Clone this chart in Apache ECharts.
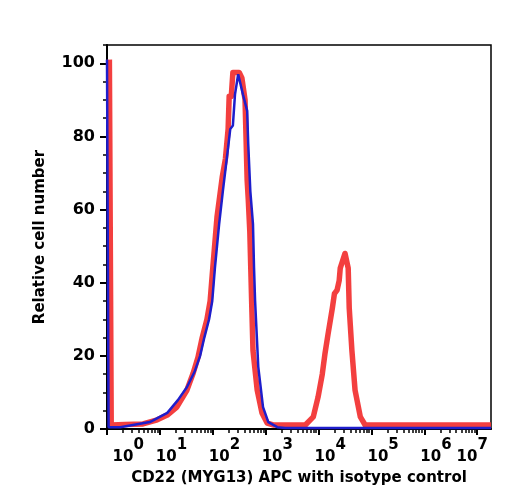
<!DOCTYPE html>
<html>
<head>
<meta charset="utf-8">
<script src="https://cdn.jsdelivr.net/npm/echarts@6/dist/echarts.min.js"></script>
<style>
  html, body { margin: 0; padding: 0; background: #fff; }
  #main { width: 511px; height: 503px; }
</style>
</head>
<body>
<div id="main"></div>
<script>
// x values are in decades (log10 of intensity), y is relative cell number
var decades = [0, 1, 2, 3, 4, 5, 6, 7];
// labels sit a little right of their ticks in the original, except the last one
var labelShift = [0.40, 0.22, 0.22, 0.22, 0.22, 0.22, 0.22, -0.095];
var yTicks = [0, 20, 40, 60, 80, 100];
var yMinorTicks = [5, 10, 15, 25, 30, 35, 45, 50, 55, 65, 70, 75, 85, 90, 95, 105];

// CD22 (MYG13) APC - red
var redX = [0.045, 0.08, 0.11, 0.34, 0.68, 0.95, 1.14, 1.32, 1.51, 1.63, 1.72, 1.80, 1.89, 1.95, 2.00, 2.08, 2.18, 2.24, 2.29, 2.31, 2.35, 2.38, 2.50, 2.55, 2.61, 2.65, 2.67, 2.70, 2.72, 2.74, 2.76, 2.84, 2.93, 3.03, 3.14, 3.75, 3.90, 3.99, 4.07, 4.12, 4.18, 4.26, 4.30, 4.35, 4.39, 4.41, 4.50, 4.56, 4.58, 4.63, 4.69, 4.79, 4.88, 7.26];
var redY = [101, 1.1, 1.0, 1.2, 1.4, 2.5, 3.8, 6.0, 10.6, 15.3, 19.6, 25, 30, 35, 44, 58, 69, 74, 82, 91, 91, 97.5, 97.5, 96, 90, 68, 63, 54, 43, 32, 21.5, 10.6, 4.4, 1.6, 1.1, 1.1, 3.3, 8.7, 15, 20.5, 26, 33, 37, 38, 40.6, 44, 48, 44, 33, 21.5, 10.6, 3.3, 1.1, 1.1];

// isotype control - blue
var blueX = [0, 0.03, 0.11, 0.25, 0.49, 0.81, 1.14, 1.34, 1.51, 1.66, 1.76, 1.84, 1.93, 1.99, 2.04, 2.12, 2.19, 2.29, 2.33, 2.38, 2.42, 2.48, 2.57, 2.65, 2.67, 2.71, 2.76, 2.78, 2.80, 2.86, 2.95, 3.05, 3.22, 3.37, 7.26];
var blueY = [101, 0.5, 0.5, 0.5, 1.1, 1.9, 4.4, 7.9, 11.4, 15.8, 20, 25, 30, 35, 44, 56, 65, 77, 82, 83, 91.5, 97, 91.5, 87, 78, 65, 56, 44, 35, 17, 6, 1.9, 0.5, 0.3, 0.3];

var xMax = 7.26;
var minorX = [];
decades.forEach(function (d) {
    for (var k = 2; k <= 9; k++) {
        var v = d + Math.log10(k);
        if (v < xMax) minorX.push(v);
    }
});
var labelPos = decades.map(function (d, i) { return d + labelShift[i]; });

function pairs(xs, ys) {
    return xs.map(function (x, i) { return [x, ys[i]]; });
}

var font = 'DejaVu Sans';
var chart = echarts.init(document.getElementById('main'));
var option = {
    animation: false,
    backgroundColor: '#fff',
    grid: {
        left: 107, right: 20, top: 45, bottom: 74,
        show: true, borderColor: '#000', borderWidth: 1.5
    },
    xAxis: [
        {
            type: 'value', min: 0, max: xMax,
            name: 'CD22 (MYG13) APC with isotype control',
            nameLocation: 'middle', nameGap: 42,
            nameTextStyle: { fontFamily: font, fontSize: 15, fontWeight: 'bold', color: '#000' },
            axisLine: { lineStyle: { color: '#000', width: 2 } },
            axisTick: { customValues: decades, length: 6, lineStyle: { color: '#000', width: 2 } },
            splitLine: { show: false },
            axisLabel: {
                customValues: labelPos,
                showMinLabel: true,
                showMaxLabel: true,
                margin: 9,
                formatter: function (v) {
                    var i = labelPos.indexOf(v);
                    if (i < 0) i = Math.round(v);
                    return '{b|10}{s|' + decades[i] + '}';
                },
                rich: {
                    b: { fontFamily: font, fontSize: 15, fontWeight: 'bold', color: '#000', lineHeight: 38 },
                    s: { fontFamily: font, fontSize: 15, fontWeight: 'bold', color: '#000', verticalAlign: 'top' }
                }
            }
        },
        {
            type: 'value', min: 0, max: xMax, position: 'bottom',
            axisLine: { show: false },
            axisLabel: { show: false },
            splitLine: { show: false },
            axisTick: { customValues: minorX, length: 4, lineStyle: { color: '#000', width: 1.5 } }
        }
    ],
    yAxis: [
        {
            type: 'value', min: 0, max: 105,
            name: 'Relative cell number',
            nameLocation: 'middle', nameGap: 59,
            nameTextStyle: { fontFamily: font, fontSize: 15, fontWeight: 'bold', color: '#000' },
            axisLine: { lineStyle: { color: '#000', width: 2 } },
            axisTick: { customValues: yTicks, length: 7, lineStyle: { color: '#000', width: 2 } },
            splitLine: { show: false },
            axisLabel: {
                customValues: yTicks,
                showMinLabel: true,
                margin: 12,
                fontFamily: font, fontSize: 16, fontWeight: 'bold', color: '#000'
            }
        },
        {
            type: 'value', min: 0, max: 105, position: 'left',
            axisLine: { show: false },
            axisLabel: { show: false },
            splitLine: { show: false },
            axisTick: { customValues: yMinorTicks, length: 4, lineStyle: { color: '#000', width: 1.5 } }
        }
    ],
    series: [
        {
            name: 'CD22', type: 'line', data: pairs(redX, redY),
            showSymbol: false, z: 2,
            lineStyle: { color: '#f23535', width: 5.5, opacity: 0.95, join: 'round' }
        },
        {
            name: 'Isotype', type: 'line', data: pairs(blueX, blueY),
            showSymbol: false, z: 3,
            lineStyle: { color: '#1e1ecc', width: 2.5 }
        }
    ]
};
chart.setOption(option);
</script>
</body>
</html>
